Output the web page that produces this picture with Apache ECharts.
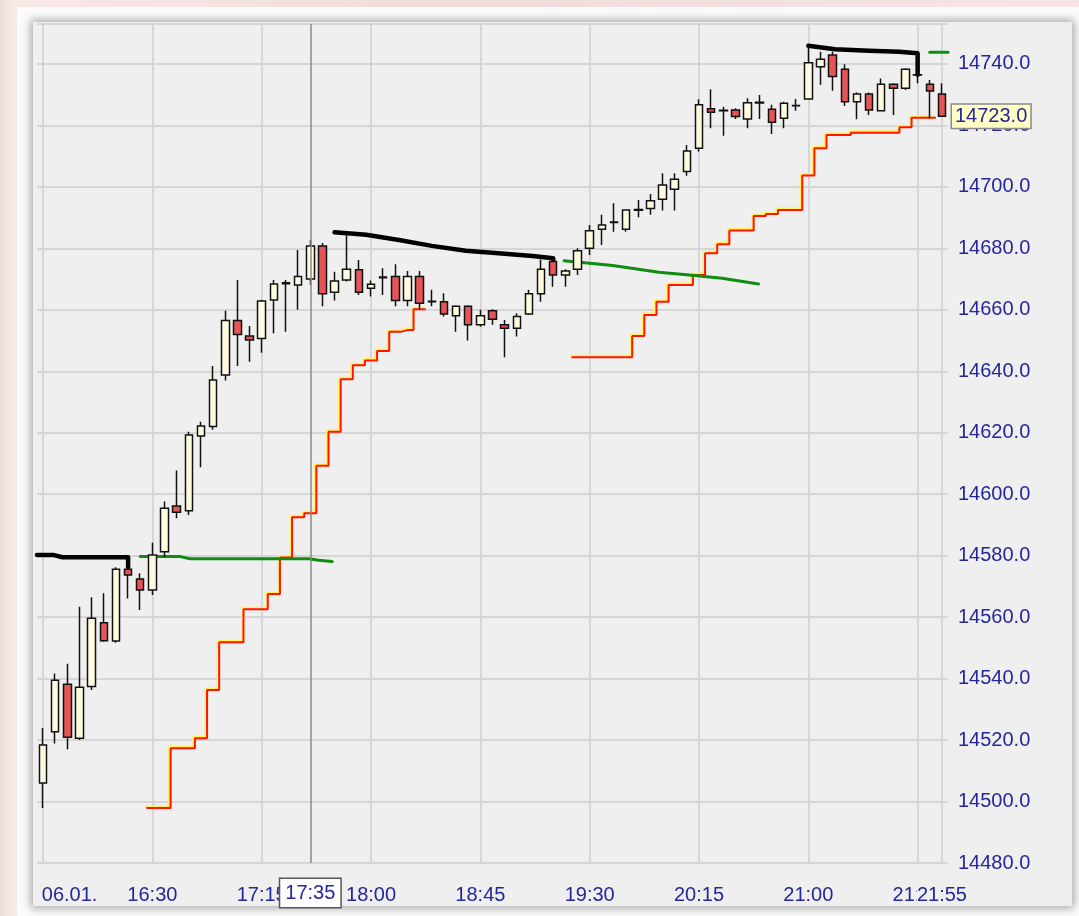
<!DOCTYPE html>
<html>
<head>
<meta charset="utf-8">
<script src="https://cdn.jsdelivr.net/npm/echarts@6/dist/echarts.min.js"></script>
<style>
html,body{margin:0;padding:0;}
body{width:1079px;height:916px;overflow:hidden;position:relative;
  background:linear-gradient(90deg,#eadccf 0px,#f4e6e2 6px,#f7e9e6 12px,#f1dcd9 40%,#f5e5e4 100%);}
#panel{position:absolute;left:17px;top:7px;width:1062px;height:909px;background:#fbfbfb;}
#inner{position:absolute;left:33px;top:22px;width:1039px;height:884px;background:#efefef;
  box-shadow:0 0 9px 2px rgba(0,0,0,0.35);}
#main{position:absolute;left:0;top:0;width:1079px;height:916px;}
</style>
</head>
<body>
<div id="panel"></div>
<div id="inner"></div>
<div id="main"></div>
<script>
// 5 minute bars, 06.01. 15:45 - 21:55
var times = ['15:45','15:50','15:55','16:00','16:05','16:10','16:15','16:20','16:25','16:30',
  '16:35','16:40','16:45','16:50','16:55','17:00','17:05','17:10','17:15','17:20',
  '17:25','17:30','17:35','17:40','17:45','17:50','17:55','18:00','18:05','18:10',
  '18:15','18:20','18:25','18:30','18:35','18:40','18:45','18:50','18:55','19:00',
  '19:05','19:10','19:15','19:20','19:25','19:30','19:35','19:40','19:45','19:50',
  '19:55','20:00','20:05','20:10','20:15','20:20','20:25','20:30','20:35','20:40',
  '20:45','20:50','20:55','21:00','21:05','21:10','21:15','21:20','21:25','21:30',
  '21:35','21:40','21:45','21:50','21:55'];

var open = [14506.0,14522.7,14538.2,14520.6,14537.4,14558.2,14552.2,14575.6,14572.4,14568.8,
  14581.3,14596.2,14594.6,14618.9,14622.0,14638.8,14656.5,14651.5,14650.7,14663.2,
  14668.5,14668.1,14670.0,14680.8,14665.7,14669.7,14673.0,14667.0,14670.4,14670.8,
  14663.0,14670.8,14662.6,14662.6,14658.1,14661.2,14655.1,14659.7,14655.1,14654.0,
  14658.6,14665.2,14675.7,14671.3,14673.2,14680.0,14686.2,14688.4,14686.2,14692.4,
  14693.0,14696.0,14699.2,14705.0,14712.6,14725.4,14724.8,14725.0,14722.1,14727.3,
  14725.3,14722.3,14726.4,14728.6,14739.1,14742.9,14738.3,14727.7,14730.2,14724.8,
  14733.4,14732.1,14736.4,14733.4,14730.2];
var close = [14518.4,14539.5,14520.9,14537.2,14559.6,14552.3,14575.6,14573.7,14568.8,14580.2,
  14595.4,14594.1,14619.3,14622.2,14637.2,14656.5,14652.0,14650.2,14662.9,14668.4,
  14668.8,14670.8,14680.8,14665.2,14669.4,14673.2,14665.7,14668.3,14670.7,14663.0,
  14670.8,14662.1,14662.8,14658.6,14661.2,14655.1,14658.1,14656.9,14654.0,14657.8,
  14665.2,14673.2,14671.3,14672.6,14679.2,14685.7,14687.6,14688.6,14692.5,14692.6,
  14695.5,14700.6,14702.5,14711.7,14726.7,14724.3,14724.9,14722.9,14727.4,14727.5,
  14721.0,14727.2,14726.5,14740.4,14741.5,14735.9,14727.7,14730.2,14725.0,14733.4,
  14732.1,14738.3,14736.5,14731.2,14723.0];
var low = [14497.9,14518.9,14517.0,14520.0,14536.3,14552.0,14551.7,14566.1,14562.3,14567.2,
  14579.5,14592.2,14593.2,14608.8,14621.0,14637.0,14641.7,14643.1,14646.0,14652.4,
  14652.9,14660.0,14668.1,14661.2,14663.0,14669.2,14664.8,14664.3,14664.8,14661.2,
  14661.2,14660.2,14661.2,14657.8,14652.9,14650.0,14654.5,14655.1,14644.6,14651.3,
  14658.3,14662.6,14667.5,14667.5,14671.3,14677.8,14681.1,14685.4,14685.4,14690.1,
  14690.9,14692.3,14692.3,14703.6,14711.5,14719.1,14716.6,14722.1,14719.1,14722.1,
  14717.2,14719.1,14724.8,14728.5,14733.2,14731.3,14726.3,14722.0,14723.4,14724.5,
  14723.4,14731.5,14733.7,14722.3,14723.0];
var high = [14523.9,14541.7,14544.8,14563.4,14566.5,14567.8,14576.2,14576.2,14574.3,14584.2,
  14597.6,14607.7,14620.3,14623.6,14641.7,14659.7,14669.7,14654.7,14663.3,14669.7,
  14669.7,14679.5,14682.7,14681.7,14672.4,14684.9,14676.2,14669.5,14673.5,14674.8,
  14672.6,14672.6,14666.5,14665.4,14661.5,14661.5,14660.0,14660.2,14656.7,14658.9,
  14666.5,14676.4,14676.4,14673.2,14680.0,14687.6,14690.9,14694.7,14692.6,14695.7,
  14697.7,14704.4,14704.4,14713.6,14728.5,14731.8,14726.1,14725.6,14728.8,14729.9,
  14726.7,14727.7,14728.6,14745.9,14744.0,14744.0,14739.9,14730.7,14730.7,14735.3,
  14733.7,14738.6,14744.0,14734.8,14733.7];

// trailing stop (step line), '-' = no value
var stopLine = ['-','-','-','-','-','-','-','-','-',14497.9,
  14497.9,14517.3,14517.3,14520.6,14536.3,14551.8,14551.8,14562.6,14562.6,14567.5,
  14579.4,14592.5,14593.8,14609.3,14620.3,14637.4,14642.0,14643.5,14646.6,14652.9,
  14653.4,14660.2,'-','-','-','-','-','-','-','-',
  '-','-','-','-',14644.6,14644.6,14644.6,14644.6,14644.6,14651.5,
  14658.3,14662.6,14668.1,14668.1,14671.3,14678.4,14681.3,14685.8,14685.8,14690.5,
  14691.2,14692.5,14692.5,14703.7,14712.6,14716.9,14716.9,14717.6,14717.6,14717.6,
  14717.6,14719.4,14722.5,14722.5,'-'];

// high lines (black) and low lines (green): [bar index, price]
var highA = [[-0.5,14580.2],[0.9,14580.2],[1.6,14579.5],[7,14579.5],[7,14576.2]];
var highB = [[24,14685.2],[26.6,14684.4],[29.3,14682.7],[32,14680.8],[34.8,14679.2],
  [37.5,14678.4],[40.3,14677.5],[42,14676.8],[42,14675.7]];
var highC = [[63,14745.9],[65.2,14744.8],[68,14744.3],[70.5,14744.0],[72,14743.5],[72,14736.5]];
var lowA = [[8,14579.7],[11.3,14579.7],[12.1,14579.0],[21.9,14579.0],[22.7,14578.5],[23.8,14578.1]];
var lowB = [[42.9,14676.0],[46.9,14674.4],[50.7,14672.2],[53.2,14671.3],[55.9,14670.3],[58.9,14668.4]];
var lowC = [[73,14743.8],[74.5,14743.8]];

var gridIdx = [0, 9, 18, 27, 36, 45, 54, 63, 72, 74];
var labelIdx = [0, 9, 18, 27, 36, 45, 54, 63, 72];
var lastIdx = 74;
var dateLabel = '06.01.';
var yTicks = {min: 14480, max: 14753, step: 20};
var cursorIdx = 22;
var lastPrice = 14723.0;

var txt = '#26269c';
var font = '"Liberation Sans", Arial, sans-serif';

var candles = [];
for (var i = 0; i < times.length; i++) {
  candles.push([open[i], close[i], low[i], high[i]]);
}

function lineSeries(data, color, width) {
  return {
    type: 'line', xAxisIndex: 1, data: data, symbol: 'none', silent: true,
    lineStyle: {color: color, width: width, cap: 'round', join: 'round'}, z: 3
  };
}

var myChart = echarts.init(document.getElementById('main'));
var option = {
  backgroundColor: 'transparent',
  animation: false,
  grid: {left: 37, right: 131, top: 24, bottom: 53},
  xAxis: [{
    type: 'category',
    data: times,
    boundaryGap: true,
    axisLine: {show: false},
    axisTick: {show: false},
    axisLabel: {
      interval: function (i) { return labelIdx.indexOf(i) >= 0; },
      hideOverlap: false,
      color: txt, fontSize: 20, fontFamily: font, margin: 22,
      formatter: function (v, i) {
        if (i === 0) return '{d|' + dateLabel + '}';
        return v;
      },
      rich: {
        d: {padding: [0, 0, 0, 53], color: txt, fontSize: 20, fontFamily: font}
      }
    },
    splitLine: {
      show: true,
      alignWithLabel: true,
      interval: function (i) { return gridIdx.indexOf(i) >= 0; },
      lineStyle: {color: '#d6d6d6', width: 2}
    },
    axisPointer: {
      show: true, type: 'line', value: cursorIdx, status: 'show', snap: false,
      triggerTooltip: false,
      lineStyle: {color: '#8a8a8a', width: 1.5, type: 'solid'},
      label: {
        show: true, backgroundColor: '#ffffff', borderColor: '#555555', borderWidth: 1.5,
        borderRadius: 0,
        color: txt, fontSize: 20, fontFamily: font, padding: [4, 5, 4, 5], margin: 16
      }
    }
  }, {
    type: 'value', min: -0.5, max: 74.5, show: false, splitLine: {show: false}
  }, {
    // last bar time, drawn over the neighbouring label
    type: 'category',
    data: times,
    position: 'bottom',
    boundaryGap: true,
    axisLine: {show: false},
    axisTick: {show: false},
    splitLine: {show: false},
    axisLabel: {
      interval: function (i) { return i === lastIdx; },
      color: txt, fontSize: 20, fontFamily: font, margin: 22,
      backgroundColor: '#efefef'
    }
  }],
  yAxis: {
    type: 'value',
    position: 'right',
    min: yTicks.min, max: yTicks.max, interval: yTicks.step,
    axisLine: {show: false},
    axisTick: {show: false},
    axisLabel: {
      color: txt, fontSize: 20, fontFamily: font, margin: 10, showMaxLabel: false,
      formatter: function (v) { return v.toFixed(1); }
    },
    splitLine: {lineStyle: {color: '#d6d6d6', width: 2}},
    axisPointer: {
      show: true, type: 'none', value: lastPrice, status: 'show', triggerTooltip: false,
      label: {
        show: true, backgroundColor: '#ffffc6', borderColor: '#8a8a8a', borderWidth: 1.5,
        borderRadius: 0,
        color: txt, fontSize: 20, fontFamily: font, padding: [2, 3, 1, 3], margin: 4,
        formatter: function (p) { return Number(p.value).toFixed(1); }
      }
    }
  },
  series: [
    {
      type: 'line', xAxisIndex: 0, data: stopLine, step: 'middle', symbol: 'none', silent: true,
      lineStyle: {color: '#ff1500', width: 2, shadowColor: '#fff25a', shadowBlur: 0,
        shadowOffsetX: -1.5, shadowOffsetY: -1.5},
      z: 2
    },
    lineSeries(highA, '#000000', 4.5),
    lineSeries(highB, '#000000', 4.5),
    lineSeries(highC, '#000000', 4.5),
    lineSeries(lowA, '#108c10', 3),
    lineSeries(lowB, '#108c10', 3),
    lineSeries(lowC, '#108c10', 3),
    {
      type: 'candlestick', xAxisIndex: 0, data: candles, barWidth: 8, silent: true,
      itemStyle: {color: '#fffbe0', color0: '#e55555', borderColor: '#111111',
        borderColor0: '#111111', borderWidth: 1.5},
      z: 5
    }
  ]
};
myChart.setOption(option);
</script>
</body>
</html>
